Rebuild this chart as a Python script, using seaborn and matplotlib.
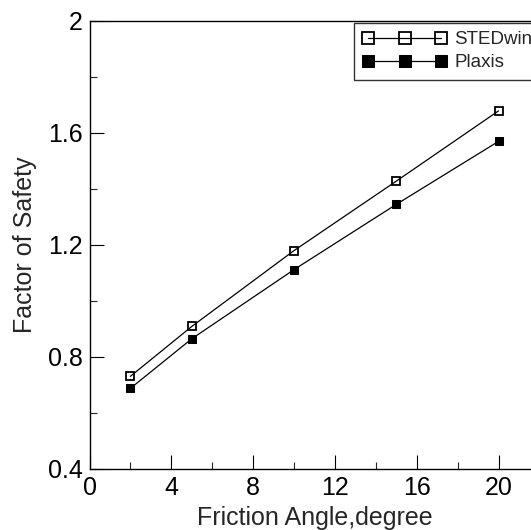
import pandas as pd
import matplotlib
matplotlib.use("Agg")
import matplotlib.pyplot as plt
import seaborn as sns
from matplotlib.ticker import MultipleLocator

# === Data ===
friction_angle = [2, 5, 10, 15, 20]
fos_stedwin = [0.731, 0.909, 1.180, 1.428, 1.679]
fos_plaxis = [0.688, 0.865, 1.112, 1.345, 1.570]

df = pd.DataFrame({
    "angle": friction_angle * 2,
    "fos": fos_stedwin + fos_plaxis,
    "method": ["STEDwin"] * 5 + ["Plaxis"] * 5,
})

# === Style ===
sns.set_style("white")
plt.rcParams["font.family"] = ["Liberation Sans", "DejaVu Sans"]
plt.rcParams["xtick.direction"] = "in"
plt.rcParams["ytick.direction"] = "in"

fig = plt.figure(figsize=(5.31, 5.30), dpi=100)
ax = fig.add_axes([89.5 / 531, 61 / 530, 22 * 20.45 / 531, 448 / 530])

sns.lineplot(data=df[df.method == "STEDwin"], x="angle", y="fos", ax=ax,
             color="black", lw=0.9, marker="s", markersize=6,
             markerfacecolor="none", markeredgecolor="black", markeredgewidth=1.3,
             label="STEDwin")
sns.lineplot(data=df[df.method == "Plaxis"], x="angle", y="fos", ax=ax,
             color="black", lw=0.9, marker="s", markersize=6,
             markerfacecolor="black", markeredgecolor="black",
             label="Plaxis")

ax.set_xlim(0, 22)
ax.set_ylim(0.4, 2.0)
ax.xaxis.set_minor_locator(MultipleLocator(2))
ax.yaxis.set_minor_locator(MultipleLocator(0.2))
ax.set_xticks([0, 4, 8, 12, 16, 20])
ax.set_yticks([0.4, 0.8, 1.2, 1.6, 2.0])
ax.set_yticklabels(["0.4", "0.8", "1.2", "1.6", "2"])
ax.tick_params(which="major", length=10, width=0.8, labelsize=18, pad=5,
               bottom=True, left=True, colors="black")
ax.tick_params(which="minor", length=5, width=0.8, bottom=True, left=True)
for s in ax.spines.values():
    s.set_color("black")
    s.set_linewidth(1.0)

ax.set_xlabel("Friction Angle,degree", fontsize=18, labelpad=4)
ax.set_ylabel("Factor of Safety", fontsize=18, labelpad=8)

leg = ax.legend(loc="upper left", bbox_to_anchor=(354 / 531, 1 - 22.5 / 530),
                bbox_transform=fig.transFigure, borderaxespad=0,
                numpoints=3, markerscale=1.5, handlelength=4.5, handletextpad=0.4,
                labelspacing=0.33, fontsize=13.5, frameon=True, fancybox=False,
                borderpad=0.45)
leg.get_frame().set_edgecolor("black")
leg.get_frame().set_linewidth(1.0)

fig.savefig("out.png", dpi=100)
plt.close(fig)
